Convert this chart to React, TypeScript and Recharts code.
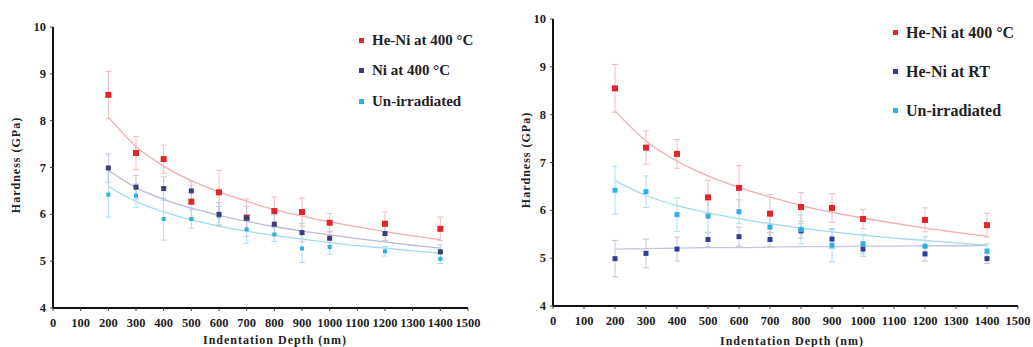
import React from "react";
import {
  ComposedChart,
  Scatter,
  Line,
  XAxis,
  YAxis,
  ErrorBar,
} from "recharts";

const depths = [200, 300, 400, 500, 600, 700, 800, 900, 1000, 1200, 1400];
const fitDepths = [200, 300, 400, 500, 600, 700, 800, 900, 1000, 1100, 1200, 1300, 1400];
const xTicks = [0, 100, 200, 300, 400, 500, 600, 700, 800, 900, 1000, 1100, 1200, 1300, 1400, 1500];
const yTicks = [4, 5, 6, 7, 8, 9, 10];

// left panel
const heNi400 = [8.55, 7.31, 7.18, 6.27, 6.47, 5.93, 6.07, 6.05, 5.82, 5.8, 5.69];
const heNi400Err = [0.5, 0.35, 0.3, 0.35, 0.47, 0.4, 0.3, 0.3, 0.2, 0.25, 0.25];
const ni400 = [6.99, 6.58, 6.55, 6.5, 6.0, 5.92, 5.79, 5.61, 5.49, 5.59, 5.2];
const ni400Err = [0.3, 0.25, 0.25, 0.2, 0.25, 0.25, 0.2, 0.2, 0.15, 0.15, 0.15];
const unirr = [6.42, 6.4, 5.9, 5.9, 5.97, 5.68, 5.57, 5.27, 5.3, 5.21, 5.05];
const unirrErr = [0.48, 0.25, 0.45, 0.2, 0.2, 0.3, 0.15, 0.3, 0.15, 0.1, 0.1];

const heNi400Fit = [8.08, 7.45, 7.03, 6.72, 6.48, 6.28, 6.1, 5.96, 5.84, 5.73, 5.63, 5.54, 5.46];
const ni400Fit = [6.94, 6.57, 6.32, 6.13, 5.98, 5.85, 5.74, 5.64, 5.56, 5.48, 5.41, 5.34, 5.28];
const unirrFit = [6.6, 6.27, 6.05, 5.88, 5.75, 5.64, 5.55, 5.47, 5.4, 5.33, 5.28, 5.22, 5.17];

// right panel
const heNiRT = [4.99, 5.1, 5.19, 5.39, 5.45, 5.39, 5.57, 5.4, 5.19, 5.09, 4.99];
const heNiRTErr = [0.38, 0.3, 0.25, 0.15, 0.2, 0.15, 0.15, 0.2, 0.15, 0.15, 0.1];
const unirrR = [6.42, 6.39, 5.91, 5.88, 5.97, 5.65, 5.6, 5.27, 5.3, 5.25, 5.15];
const unirrRErr = [0.5, 0.33, 0.35, 0.35, 0.25, 0.3, 0.3, 0.35, 0.2, 0.2, 0.15];

const heNiRTFit = [5.19, 5.2, 5.21, 5.22, 5.22, 5.23, 5.24, 5.24, 5.25, 5.25, 5.26, 5.26, 5.27];
const unirrRFit = [6.62, 6.31, 6.1, 5.95, 5.82, 5.72, 5.63, 5.55, 5.48, 5.42, 5.37, 5.32, 5.27];

const pts = (ys: number[], errs: number[]) =>
  depths.map((x, i) => ({ x, y: ys[i], e: errs[i] }));
const fit = (ys: number[]) => fitDepths.map((x, i) => ({ x, y: ys[i] }));

const RED = "#e3242b";
const NAVY = "#3a3f78";
const BLUE = "#2f3f96";
const CYAN = "#2fb0e4";

const font = "'Liberation Serif', 'Times New Roman', serif";

const square = (s: number, fill: string) => (p: any) => (
  <rect x={p.cx - s / 2} y={p.cy - s / 2} width={s} height={s} fill={fill} />
);

const XTick = (p: any) => (
  <text x={p.x} y={p.y + 14} textAnchor="middle" fontSize={12.5} fontWeight="bold" fontFamily={font} fill="#222">
    {p.payload.value}
  </text>
);

const YTick = (p: any) => (
  <text x={p.x - 2} y={p.y + 4} textAnchor="end" fontSize={12.5} fontWeight="bold" fontFamily={font} fill="#222">
    {p.payload.value}
  </text>
);

interface LegendItem {
  name: string;
  color: string;
}

function Legend({ items, left, top, gap, size }: { items: LegendItem[]; left: number; top: number; gap: number; size: number }) {
  return (
    <div style={{ position: "absolute", left, top, fontFamily: font, fontWeight: "bold", fontSize: size, color: "#222" }}>
      {items.map((it) => (
        <div key={it.name} style={{ height: gap, display: "flex", alignItems: "center", whiteSpace: "nowrap" }}>
          <span style={{ width: 5, height: 5, background: it.color, display: "inline-block", marginRight: 8 }} />
          {it.name}
        </div>
      ))}
    </div>
  );
}

function Panel({ width, margin, children }: { width: number; margin: any; children: React.ReactNode }) {
  return (
    <ComposedChart width={width} height={347} margin={margin}>
      <XAxis
        dataKey="x"
        type="number"
        domain={[0, 1500]}
        ticks={xTicks}
        interval={0}
        allowDuplicatedCategory={false}
        axisLine={{ stroke: "#111", strokeWidth: 2 }}
        tickLine={{ stroke: "#444" }}
        tickSize={3}
        tick={<XTick />}
        height={30}
      />
      <YAxis
        dataKey="y"
        type="number"
        domain={[4, 10]}
        ticks={yTicks}
        interval={0}
        axisLine={{ stroke: "#111", strokeWidth: 2 }}
        tickLine={{ stroke: "#444" }}
        tickSize={3}
        tick={<YTick />}
        width={30}
      />
      {children}
    </ComposedChart>
  );
}

const titleStyle: React.CSSProperties = {
  position: "absolute",
  fontFamily: font,
  fontWeight: "bold",
  fontSize: 12,
  letterSpacing: 1,
  whiteSpace: "nowrap",
  color: "#222",
};

export default function App() {
  return (
    <div style={{ position: "absolute", left: 0, top: 0, width: 1033, height: 347, background: "#fff", overflow: "hidden" }}>
      <div style={{ position: "absolute", left: 0, top: 0 }}>
        <Panel width={520} margin={{ top: 27, right: 52, left: 23, bottom: 9 }}>
          <Line data={fit(heNi400Fit)} dataKey="y" type="monotone" stroke="#f3adb0" strokeWidth={1.3} dot={false} isAnimationActive={false} />
          <Line data={fit(ni400Fit)} dataKey="y" type="monotone" stroke="#b9bbd6" strokeWidth={1.3} dot={false} isAnimationActive={false} />
          <Line data={fit(unirrFit)} dataKey="y" type="monotone" stroke="#a2daef" strokeWidth={1.3} dot={false} isAnimationActive={false} />
          <Scatter data={pts(heNi400, heNi400Err)} dataKey="y" shape={square(6, RED)} isAnimationActive={false}>
            <ErrorBar dataKey="e" direction="y" width={3} stroke="#f3bcbf" strokeWidth={1} />
          </Scatter>
          <Scatter data={pts(unirr, unirrErr)} dataKey="y" shape={square(4, CYAN)} isAnimationActive={false}>
            <ErrorBar dataKey="e" direction="y" width={3} stroke="#a9def2" strokeWidth={1} />
          </Scatter>
          <Scatter data={pts(ni400, ni400Err)} dataKey="y" shape={square(5, NAVY)} isAnimationActive={false}>
            <ErrorBar dataKey="e" direction="y" width={3} stroke="#c3c4dc" strokeWidth={1} />
          </Scatter>
        </Panel>
        <div style={{ ...titleStyle, left: 16, top: 165, transform: "translate(-50%, -50%) rotate(-90deg)" }}>
          Hardness (GPa)
        </div>
        <div style={{ ...titleStyle, left: 275, top: 340, transform: "translate(-50%, -50%)" }}>
          Indentation  Depth (nm)
        </div>
        <Legend
          left={359}
          top={25}
          gap={30.5}
          size={15}
          items={[
            { name: "He-Ni at 400 °C", color: RED },
            { name: "Ni at 400 °C", color: NAVY },
            { name: "Un-irradiated", color: CYAN },
          ]}
        />
      </div>
      <div style={{ position: "absolute", left: 520, top: 0 }}>
        <Panel width={513} margin={{ top: 19, right: 15, left: 3, bottom: 11 }}>
          <Line data={fit(heNi400Fit)} dataKey="y" type="monotone" stroke="#f3adb0" strokeWidth={1.3} dot={false} isAnimationActive={false} />
          <Line data={fit(unirrRFit)} dataKey="y" type="monotone" stroke="#a2daef" strokeWidth={1.3} dot={false} isAnimationActive={false} />
          <Line data={fit(heNiRTFit)} dataKey="y" type="monotone" stroke="#c4c5de" strokeWidth={1.3} dot={false} isAnimationActive={false} />
          <Scatter data={pts(heNiRT, heNiRTErr)} dataKey="y" shape={square(5, BLUE)} isAnimationActive={false}>
            <ErrorBar dataKey="e" direction="y" width={3} stroke="#c3c4dc" strokeWidth={1} />
          </Scatter>
          <Scatter data={pts(unirrR, unirrRErr)} dataKey="y" shape={square(5, CYAN)} isAnimationActive={false}>
            <ErrorBar dataKey="e" direction="y" width={3} stroke="#a9def2" strokeWidth={1} />
          </Scatter>
          <Scatter data={pts(heNi400, heNi400Err)} dataKey="y" shape={square(6, RED)} isAnimationActive={false}>
            <ErrorBar dataKey="e" direction="y" width={3} stroke="#f3bcbf" strokeWidth={1} />
          </Scatter>
        </Panel>
        <div style={{ ...titleStyle, left: 6, top: 160, transform: "translate(-50%, -50%) rotate(-90deg)" }}>
          Hardness (GPa)
        </div>
        <div style={{ ...titleStyle, left: 272, top: 341, transform: "translate(-50%, -50%)" }}>
          Indentation Depth (nm)
        </div>
        <Legend
          left={373}
          top={13}
          gap={39}
          size={16}
          items={[
            { name: "He-Ni at 400 °C", color: RED },
            { name: "He-Ni at RT", color: BLUE },
            { name: "Un-irradiated", color: CYAN },
          ]}
        />
      </div>
    </div>
  );
}
